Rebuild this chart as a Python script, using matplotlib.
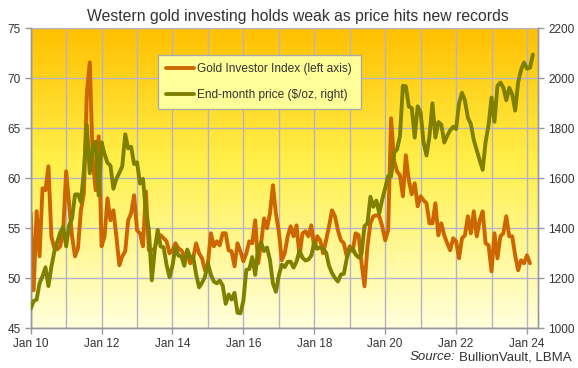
import matplotlib
matplotlib.use("Agg")
import matplotlib.pyplot as plt
import numpy as np
from matplotlib.colors import LinearSegmentedColormap

plt.rcParams['font.family'] = ['Liberation Sans', 'DejaVu Sans']

# ---- data (monthly, Jan 2010 onwards) ----
gold_investor_index = [
    56.5, 48.8, 56.7, 52.2, 59.0, 58.8, 61.2, 54.2, 53.0, 52.9, 53.2, 54.8,
    60.7, 57.5, 54.2, 52.2, 53.0, 56.8, 58.5, 68.5, 71.6, 61.8, 58.8, 64.2,
    53.2, 54.2, 58.0, 55.8, 56.8, 54.2, 51.3, 52.2, 52.7, 55.8, 56.5, 58.3,
    54.8, 54.5, 53.2, 58.7, 52.8, 52.8, 53.0, 54.2, 54.3, 54.0, 53.7, 52.5,
    52.8, 53.5, 53.0, 52.8, 52.3, 52.5, 51.5, 52.0, 53.5, 52.5, 52.0, 50.8,
    51.5, 54.5, 53.2, 53.7, 53.3, 54.5, 54.5, 52.8, 52.7, 51.2, 53.5, 52.7,
    51.7, 52.5, 53.7, 53.5, 55.8, 51.5, 53.5, 56.0, 55.0, 56.5, 59.3, 56.5,
    54.7, 51.8, 52.5, 54.2, 55.2, 54.2, 55.3, 52.2, 54.5, 54.7, 54.2, 55.3,
    53.0, 54.2, 53.8, 52.5, 53.8, 55.2, 56.8, 56.2, 54.8, 53.8, 53.5, 52.2,
    53.2, 52.7, 54.5, 54.3, 51.5, 49.2, 53.2, 55.5, 56.2, 56.3, 56.2, 55.2,
    53.8, 54.8, 66.0, 61.8, 60.7, 60.3, 58.2, 62.3, 59.8, 58.4, 59.5, 57.2,
    58.2, 57.8, 57.5, 55.5, 55.5, 57.5, 54.3, 55.5, 54.3, 53.5, 52.8, 54.0,
    53.7, 52.0, 54.0, 54.3, 56.2, 54.5, 56.7, 54.2, 55.8, 56.7, 53.5, 53.3,
    50.7, 54.5, 52.0, 54.2, 54.5, 56.2, 54.2, 54.2, 52.3, 50.8, 51.8, 51.5,
    52.3, 51.5,
]
end_month_price = [
    1078, 1109, 1115, 1180, 1208, 1244, 1169, 1246, 1307, 1346, 1383, 1406,
    1328, 1411, 1439, 1535, 1536, 1505, 1628, 1813, 1620, 1722, 1747, 1531,
    1744, 1697, 1662, 1651, 1558, 1598, 1622, 1648, 1776, 1720, 1726, 1657,
    1664, 1579, 1598, 1469, 1394, 1192, 1314, 1394, 1327, 1324, 1253, 1204,
    1251, 1326, 1291, 1288, 1250, 1315, 1285, 1286, 1216, 1164, 1182, 1206,
    1260, 1214, 1187, 1180, 1191, 1171, 1098, 1135, 1115, 1142, 1062, 1060,
    1111, 1234, 1237, 1285, 1214, 1320, 1343, 1309, 1323, 1273, 1179, 1146,
    1212, 1255, 1245, 1266, 1266, 1243, 1267, 1311, 1283, 1271, 1275, 1291,
    1345, 1318, 1324, 1316, 1303, 1250, 1221, 1201, 1187, 1215, 1218, 1279,
    1319, 1320, 1295, 1283, 1296, 1409, 1419, 1526, 1486, 1511, 1460, 1515,
    1560, 1609, 1608, 1702, 1715, 1768, 1970, 1968, 1887, 1881, 1763, 1888,
    1863, 1743, 1691, 1769, 1900, 1763, 1825, 1815, 1743, 1770, 1792, 1806,
    1797, 1900, 1942, 1911, 1842, 1817, 1753, 1712, 1672, 1634, 1746, 1813,
    1923, 1826, 1969, 1983, 1963, 1912, 1962, 1936, 1871, 1983, 2034, 2063,
    2039, 2042, 2095,
]
x_tick_labels = ["Jan 10", "Jan 12", "Jan 14", "Jan 16", "Jan 18", "Jan 20", "Jan 22", "Jan 24"]
left_ticks = [45, 50, 55, 60, 65, 70, 75]
right_ticks = [1000, 1200, 1400, 1600, 1800, 2000, 2200]

# ---- figure ----
W, H = 578, 368
fig = plt.figure(figsize=(W / 100, H / 100), dpi=100)
fig.patch.set_facecolor('white')
L, R, T, B = 30.7, 538.3, 28.3, 328.3
ax = fig.add_axes([L / W, 1 - B / H, (R - L) / W, (B - T) / H])

XMAX = (R - L) / 2.954
m_idx = np.arange(len(gold_investor_index))
m_px = np.arange(len(end_month_price))

# gradient background
cmap = LinearSegmentedColormap.from_list(
    'bg', [(0.0, '#FFC000'), (0.45, '#FFF04A'), (1.0, '#FFFFDC')])
grad = np.linspace(0, 1, 256).reshape(-1, 1)
ax.imshow(grad, cmap=cmap, aspect='auto', extent=[0, XMAX, 45, 75],
          origin='upper', zorder=0, interpolation='bicubic')

ax.set_xlim(0, XMAX)
ax.set_ylim(45, 75)
ax.set_axisbelow(True)

grid_col = '#B4B4C6'
ax.set_yticks(left_ticks)
ax.set_xticks(np.arange(0, 169, 24))
ax.set_xticklabels(x_tick_labels)
ax.set_xticks(np.arange(12, XMAX, 24), minor=True)
ax.grid(False)
ax.grid(True, which='major', color=grid_col, linewidth=1)
ax.grid(True, which='minor', axis='x', color=grid_col, linewidth=1)

tick_col = '#333333'
ax.tick_params(axis='x', which='major', direction='out', length=4, width=1,
               color='#999999', labelsize=8.5, labelcolor=tick_col, pad=3)
ax.tick_params(axis='x', which='minor', length=0)
ax.tick_params(axis='y', direction='out', length=4, width=1, color='#999999',
               labelsize=8.5, labelcolor=tick_col, pad=3)

l1, = ax.plot(m_idx, gold_investor_index, color='#CC6600', linewidth=2.8,
              solid_joinstyle='round', solid_capstyle='round', zorder=3,
              label='Gold Investor Index (left axis)')

ax2 = ax.twinx()
ax2.set_ylim(1000, 2200)
ax2.set_yticks(right_ticks)
ax2.tick_params(axis='y', direction='out', length=4, width=1, color='#999999',
                labelsize=8.5, labelcolor=tick_col, pad=3)
l2, = ax2.plot(m_px, end_month_price, color='#808000', linewidth=2.8,
               solid_joinstyle='round', solid_capstyle='round', zorder=3,
               label='End-month price ($/oz, right)')

for a in (ax, ax2):
    for s in a.spines.values():
        s.set_color('#999999')
        s.set_linewidth(1)
    a.spines['top'].set_visible(False)

leg = ax2.legend(handles=[l1, l2], loc='upper left',
                 bbox_to_anchor=(158 / W, 1 - 55 / H), bbox_transform=fig.transFigure,
                 borderaxespad=0, fontsize=8.6, frameon=True, fancybox=False,
                 facecolor='#FFFF99', edgecolor='#AAAAAA', framealpha=1,
                 handlelength=2.3, handletextpad=0.3, labelspacing=1.15,
                 borderpad=0.7)
for t in leg.get_texts():
    t.set_color('#333333')
leg.get_frame().set_linewidth(1)

fig.text(298 / W, 1 - 16 / H,
         'Western gold investing holds weak as price hits new records',
         ha='center', va='center', fontsize=11.3, color='#333333')

src = fig.text(572 / W, 1 - 357 / H, 'BullionVault, LBMA', ha='right', va='center',
               fontsize=9.5, color='#333333')
ax.annotate('Source:', xy=(0, 0.5), xycoords=src, xytext=(-3, 0),
            textcoords='offset points', ha='right', va='center',
            fontsize=9.5, color='#333333', style='italic', annotation_clip=False)

fig.savefig('out.png', dpi=100)
